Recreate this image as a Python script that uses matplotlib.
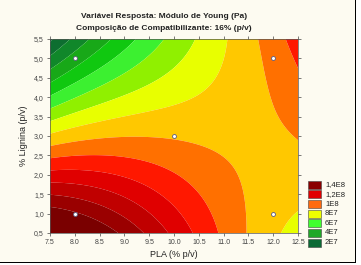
import numpy as np
import matplotlib
matplotlib.use("Agg")
import matplotlib.pyplot as plt
from matplotlib.patches import Rectangle

plt.rcParams['font.family'] = ['Liberation Sans', 'DejaVu Sans']

# ---- data ----
design_x = [8.0, 8.0, 12.0, 12.0, 10.0]
design_y = [1.0, 5.0, 1.0, 5.0, 3.0]
# fitted response surface (units of 1E7 Pa), in coded variables
# u = (PLA - 10)/2.5, v = (Lignina - 3)/2.5
# terms: [1, u, v, uv, u^2, v^2, u^3, u^2 v, u v^2, v^3]
surface_coef = [8.899, -0.384, -2.885, 4.552, -0.279, 0.146, 0.819, -0.401, -0.141, 0.166]
level_values = [1e7, 2e7, 3e7, 4e7, 5e7, 6e7, 7e7, 8e7, 9e7, 1e8, 1.1e8, 1.2e8, 1.3e8, 1.4e8]
band_colors = ['#0a5e2a', '#0d6e30', '#10872a', '#18a818', '#10c810', '#3cf030', '#90f000',
               '#e8ff00', '#ffc800', '#ff7000', '#ff1800', '#e00000', '#c00000', '#9a0000', '#7a0000']
legend_labels = ['1,4E8', '1,2E8', '1E8', '8E7', '6E7', '4E7', '2E7']
legend_colors = ['#8a0000', '#e00000', '#ff6a10', '#eeff00', '#40ff30', '#20a828', '#0b6a35']
x_ticks = [7.5, 8.0, 8.5, 9.0, 9.5, 10.0, 10.5, 11.0, 11.5, 12.0, 12.5]
x_ticklabels = ['7.5', '8.0', '8.5', '9.0', '9.5', '10.0', '10.5', '11.0', '11.5', '12.0', '12.5']
y_ticks = [0.5, 1.0, 1.5, 2.0, 2.5, 3.0, 3.5, 4.0, 4.5, 5.0, 5.5]
y_ticklabels = ['0,5', '1,0', '1,5', '2,0', '2,5', '3,0', '3,5', '4,0', '4,5', '5,0', '5,5']

W, H = 361, 265
fig = plt.figure(figsize=(W / 100, H / 100), dpi=100)
fig.patch.set_facecolor('white')
fig.add_artist(Rectangle((0, 2 / H), 355 / W, 263 / H, transform=fig.transFigure,
                         facecolor='#fdfbf1', edgecolor='none', zorder=-20))
fig.add_artist(Rectangle((355 / W, 2 / H), 1.2 / W, 263 / H, transform=fig.transFigure,
                         facecolor='black', edgecolor='none', zorder=-19))
fig.add_artist(Rectangle((0, 2 / H), 356 / W, 1.2 / H, transform=fig.transFigure,
                         facecolor='black', edgecolor='none', zorder=-19))

ax = fig.add_axes([50 / W, 32 / H, 248 / W, 194 / H])
xs = np.linspace(7.5, 12.5, 400)
ys = np.linspace(0.5, 5.5, 400)
X, Y = np.meshgrid(xs, ys)
U = (X - 10) / 2.5
V = (Y - 3) / 2.5
terms = [np.ones_like(U), U, V, U * V, U * U, V * V, U ** 3, U * U * V, U * V * V, V ** 3]
Z = sum(ci * t for ci, t in zip(surface_coef, terms)) * 1e7
levels = [-1e12] + level_values + [1e12]
ax.contourf(X, Y, Z, levels=levels, colors=band_colors, antialiased=True)
ax.scatter(design_x, design_y, s=8, facecolor='white', edgecolor='#5a5a80', linewidth=0.6, zorder=5)

ax.set_xlim(7.5, 12.5)
ax.set_ylim(0.5, 5.5)
ax.set_xticks(x_ticks)
ax.set_xticklabels(x_ticklabels)
ax.set_yticks(y_ticks)
ax.set_yticklabels(y_ticklabels)
ax.tick_params(axis='both', labelsize=5, colors='#444444', length=2, width=0.5,
               direction='out', pad=2.5)
ax.tick_params(axis='both', which='both', top=True, right=True)
for s in ax.spines.values():
    s.set_linewidth(0.5)
    s.set_color('#555555')
ax.set_xlabel('PLA (% p/v)', fontsize=6.5, color='#222222', labelpad=3)
ax.set_ylabel('% Lignina (p/v)', fontsize=6.5, color='#222222', labelpad=4)

fig.text(164 / W, 1 - 17 / H, 'Variável Resposta: Módulo de Young (Pa)', ha='center', va='center',
         fontsize=6, fontweight='bold', color='#222222')
fig.text(164 / W, 1 - 29 / H, 'Composição de Compatibilizante: 16% (p/v)', ha='center', va='center',
         fontsize=6, fontweight='bold', color='#222222')

row_y = [185, 194.3, 204, 213.7, 223.3, 233, 242.7]
for lab, col, ry in zip(legend_labels, legend_colors, row_y):
    fig.add_artist(Rectangle((308 / W, 1 - (ry + 4) / H), 13 / W, 8 / H, transform=fig.transFigure,
                             facecolor=col, edgecolor='#444444', linewidth=0.4))
    fig.text(325 / W, 1 - ry / H, lab, ha='left', va='center', fontsize=5.5, color='#222222')

fig.savefig('out.png', dpi=100)
